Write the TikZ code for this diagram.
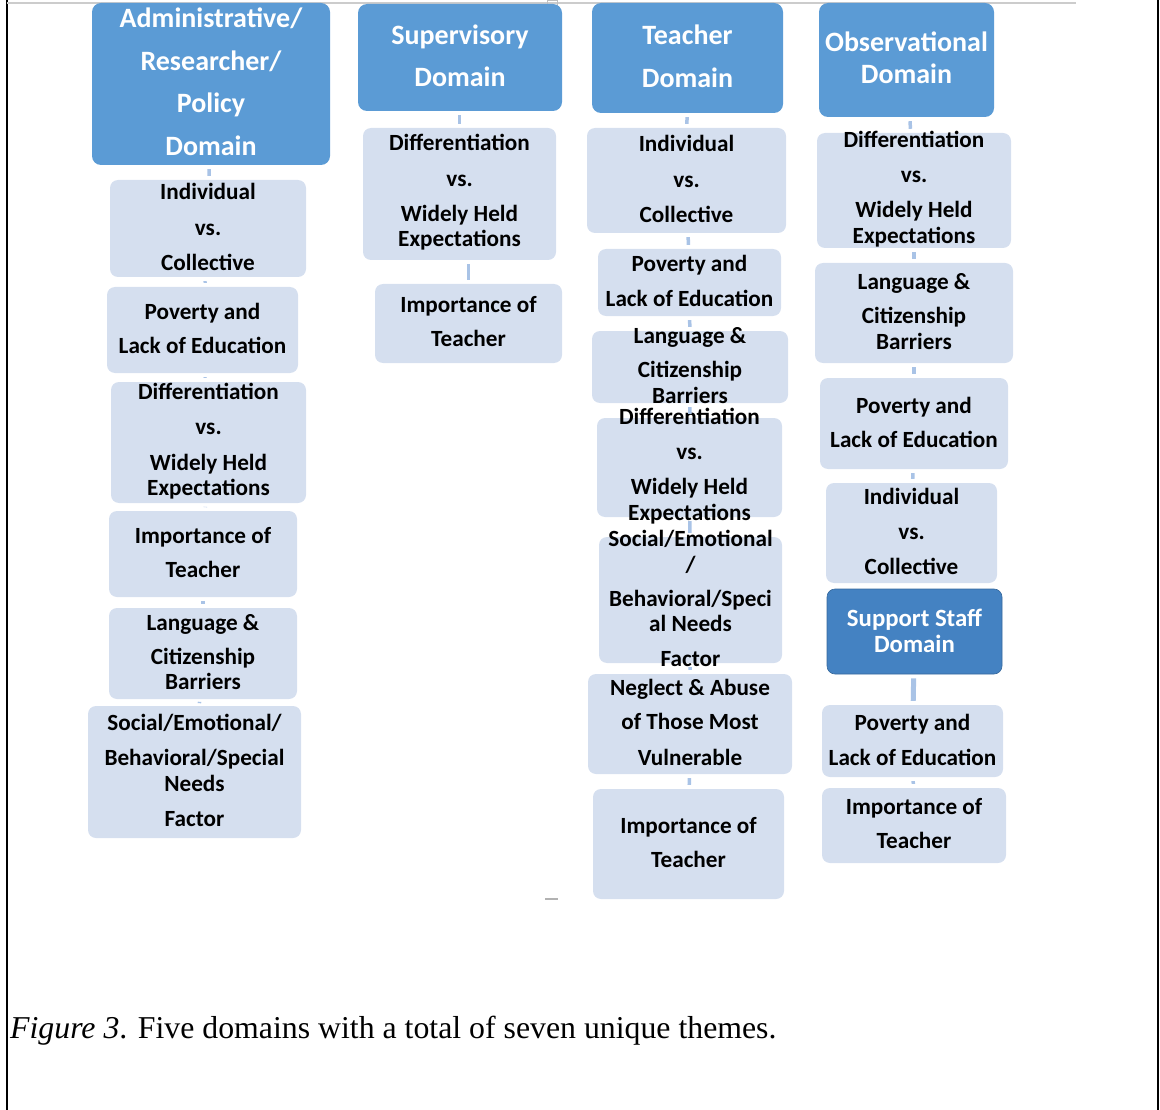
\documentclass[tikz,border=0pt]{standalone}
\usepackage{fontspec}
\setmainfont{Carlito}
\newfontfamily\capfont{Liberation Serif}
\definecolor{hdrblue}{HTML}{5B9BD5}
\definecolor{supblue}{HTML}{4482C2}
\definecolor{lightbox}{HTML}{D5DFEF}
\definecolor{connblue}{HTML}{A9C3E6}
\newcommand\mkbox[6]{\node[#1, minimum width={#4-#2}, minimum height={#5-#3}] (#6) at ({(#2+#4)/2},{(#3+#5)/2}) {};}
\newcommand\bodyfnt{\bfseries\fontsize{23.2}{25.5}\selectfont}
\newcommand\hdrfnt{\bfseries\fontsize{28}{26}\selectfont}
\newcommand\supfnt{\bfseries\fontsize{24.8}{26}\selectfont}
\tikzset{
  hdr/.style={fill=hdrblue, rounded corners=9pt, inner sep=0pt},
  suphdr/.style={fill=supblue, draw=supblue!80!black, line width=0.6pt, rounded corners=8pt, inner sep=0pt},
  lbox/.style={fill=lightbox, rounded corners=8pt, inner sep=0pt},
  btxt/.style={align=center, font=\bodyfnt, inner sep=0pt, text=black, yshift=1.5pt},
  htxt/.style={align=center, font=\hdrfnt, inner sep=0pt, text=white, yshift=2pt},
  stxt/.style={align=center, font=\supfnt, inner sep=0pt, text=white, yshift=1pt},
  conn/.style={draw=connblue, line width=3.5pt, shorten >=4pt, shorten <=4pt},
  thickconn/.style={draw=connblue, line width=5pt, shorten >=4pt, shorten <=4pt}
}
\begin{document}
\begin{tikzpicture}[x=1pt,y=-1pt]
\useasboundingbox (0,0) rectangle (1160,1110);
% frame
\draw[black, line width=2pt] (7,0) -- (7,1110);
\draw[black, line width=2pt] (1158,0) -- (1158,1110);
\draw[black!20, line width=1.5pt] (7,3) -- (1076,3);
\draw[black!25, line width=1pt] (547,0.5) rectangle (557,6);
\draw[black!30, line width=2pt] (545,899) -- (558,899);

% ---------- column 1 ----------
\mkbox{hdr}{92}{3}{330}{165}{h1}
\node[htxt] (h1t) at (h1.center) {Administrative/\\[16.5pt]Researcher/\\[16.5pt]Policy\\[16.5pt]Domain};
\mkbox{lbox}{110}{180}{306}{277}{a1}
\node[btxt] (a1t) at (a1.center) {Individual\\[10pt]vs.\\[10pt]Collective};
\mkbox{lbox}{107}{287}{298}{373}{a2}
\node[btxt] (a2t) at (a2.center) {Poverty and\\[8.5pt]Lack of Education};
\mkbox{lbox}{111}{382}{306}{503}{a3}
\node[btxt] (a3t) at (a3.center) {Differentiation\\[10pt]vs.\\[10pt]Widely Held\\Expectations};
\mkbox{lbox}{109}{511}{297}{597}{a4}
\node[btxt] (a4t) at (a4.center) {Importance of\\[8.5pt]Teacher};
\mkbox{lbox}{109}{608}{297}{699}{a5}
\node[btxt] (a5t) at (a5.center) {Language \&\\[8.5pt]Citizenship\\Barriers};
\mkbox{lbox}{88}{706}{301}{838}{a6}
\node[btxt] (a6t) at (a6.center) {Social/Emotional/\\[9.5pt]Behavioral/Special\\Needs\\[9.5pt]Factor};

% ---------- column 2 ----------
\mkbox{hdr}{358}{4}{562}{111}{h2}
\node[htxt] (h2t) at (h2.center) {Supervisory\\[16pt]Domain};
\mkbox{lbox}{363}{128}{556}{260}{b1}
\node[btxt] (b1t) at (b1.center) {Differentiation\\[10pt]vs.\\[9.5pt]Widely Held\\Expectations};
\mkbox{lbox}{375}{284}{562}{363}{b2}
\node[btxt] (b2t) at (b2.center) {Importance of\\[8.5pt]Teacher};

% ---------- column 3 ----------
\mkbox{hdr}{592}{3}{783}{113}{h3}
\node[htxt] (h3t) at (h3.center) {Teacher\\[17pt]Domain};
\mkbox{lbox}{587}{128}{786}{233}{c1}
\node[btxt] (c1t) at (c1.center) {Individual\\[10pt]vs.\\[10pt]Collective};
\mkbox{lbox}{598}{249}{781}{316}{c2}
\node[btxt] (c2t) at (c2.center) {Poverty and\\[9.5pt]Lack of Education};
\mkbox{lbox}{592}{331}{788}{403}{c3}
\node[btxt] (c3t) at (c3.center) {Language \&\\[8.5pt]Citizenship\\Barriers};
\mkbox{lbox}{597}{418}{782}{517}{c4}
\node[btxt] (c4t) at (c4.center) {Differentiation\\[10pt]vs.\\[9.5pt]Widely Held\\Expectations};
\mkbox{lbox}{599}{537}{782}{663}{c5}
\node[btxt] (c5t) at (c5.center) {Social/Emotional\\/\\[8.5pt]Behavioral/Speci\\al Needs\\[9.5pt]Factor};
\mkbox{lbox}{588}{674}{792}{774}{c6}
\node[btxt] (c6t) at (c6.center) {Neglect \& Abuse\\[8.5pt]of Those Most\\[10pt]Vulnerable};
\mkbox{lbox}{593}{789}{784}{899}{c7}
\node[btxt] (c7t) at (c7.center) {Importance of\\[8.5pt]Teacher};

% ---------- column 4 ----------
\mkbox{hdr}{819}{3}{994}{117}{h4}
\node[htxt] (h4t) at (h4.center) {Observational\\[6pt]Domain};
\mkbox{lbox}{817}{133}{1011}{248}{d1}
\node[btxt] (d1t) at (d1.center) {Differentiation\\[10pt]vs.\\[9.5pt]Widely Held\\Expectations};
\mkbox{lbox}{815}{263}{1013}{363}{d2}
\node[btxt] (d2t) at (d2.center) {Language \&\\[8.5pt]Citizenship\\Barriers};
\mkbox{lbox}{820}{378}{1008}{469}{d3}
\node[btxt] (d3t) at (d3.center) {Poverty and\\[8.5pt]Lack of Education};
\mkbox{lbox}{826}{483}{997}{583}{d4}
\node[btxt] (d4t) at (d4.center) {Individual\\[10pt]vs.\\[9.5pt]Collective};
\mkbox{suphdr}{827}{589}{1002}{674}{h5}
\node[stxt] (h5t) at (h5.center) {Support Staff\\Domain};
\mkbox{lbox}{822}{705}{1003}{777}{d5}
\node[btxt] (d5t) at (d5.center) {Poverty and\\[9.5pt]Lack of Education};
\mkbox{lbox}{822}{788}{1006}{863}{d6}
\node[btxt] (d6t) at (d6.center) {Importance of\\[8.5pt]Teacher};

% ---------- connectors ----------
\draw[conn] (h1) -- (a1);
\draw[conn] (a1) -- (a2);
\draw[conn] (a2) -- (a3);
\draw[conn] (a3) -- (a4);
\draw[conn] (a4) -- (a5);
\draw[conn] (a5) -- (a6);
\draw[conn] (h2.south -| b1.north) -- (b1.north);
\draw[conn] (b1.south -| b2.north) -- (b2.north);
\draw[conn] (h3) -- (c1);
\draw[conn] (c1) -- (c2);
\draw[conn] (c2) -- (c3);
\draw[conn] (c3) -- (c4);
\draw[conn] (c4) -- (c5);
\draw[conn] (c5) -- (c6);
\draw[conn] (c6) -- (c7);
\draw[conn] (h4) -- (d1);
\draw[conn] (d1) -- (d2);
\draw[conn] (d2) -- (d3);
\draw[conn] (d3) -- (d4);
\draw[thickconn] (h5) -- (d5);
\draw[conn] (d5) -- (d6);

% caption
\node[anchor=base west, inner sep=0pt, font=\capfont\fontsize{31.8}{36}\selectfont] (cap) at (10,1038) {\textit{Figure 3}. Five domains with a total of seven unique themes.};
\end{tikzpicture}
\end{document}
